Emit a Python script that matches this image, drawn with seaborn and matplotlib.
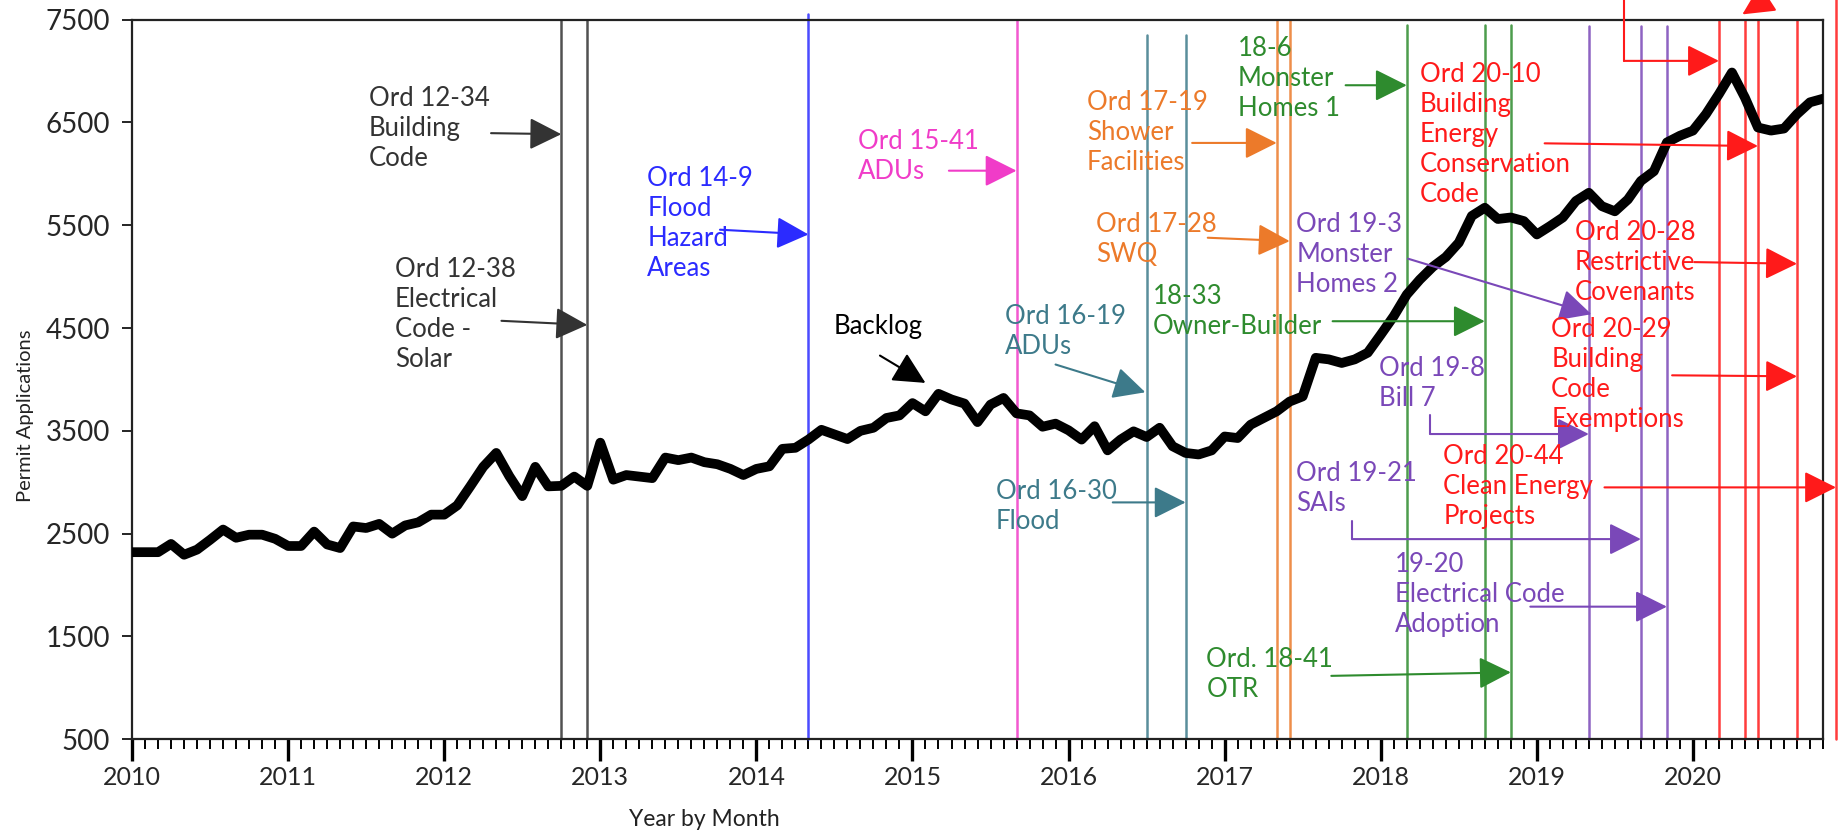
import numpy as np
import pandas as pd
import seaborn as sns
import matplotlib.pyplot as plt
from matplotlib.ticker import FixedLocator, MultipleLocator

# monthly permit applications, Jan 2010 .. Nov 2020
permits = [
    2320, 2320, 2320, 2400, 2295, 2345, 2440, 2540, 2460, 2490, 2490, 2450,
    2380, 2380, 2520, 2395, 2360, 2570, 2555, 2595, 2500, 2580, 2610, 2685,
    2685, 2775, 2960, 3150, 3285, 3060, 2865, 3150, 2960, 2965, 3055, 2965,
    3385, 3025, 3070, 3055, 3040, 3240, 3215, 3240, 3195, 3175, 3130, 3070,
    3130, 3155, 3325, 3335, 3415, 3510, 3465, 3420, 3500, 3530, 3625, 3650,
    3770, 3690, 3860, 3805, 3765, 3585, 3755, 3820, 3670, 3650, 3540, 3570,
    3505, 3415, 3545, 3310, 3415, 3495, 3440, 3530, 3350, 3285, 3270, 3310,
    3445, 3430, 3560, 3625, 3690, 3785, 3835, 4210, 4195, 4160, 4195, 4260,
    4435, 4615, 4825, 4970, 5095, 5190, 5330, 5590, 5670, 5560, 5575, 5540,
    5410, 5490, 5575, 5735, 5815, 5685, 5635, 5750, 5930, 6025, 6305, 6370,
    6420, 6580, 6775, 6985, 6740, 6450, 6420, 6440, 6580, 6695, 6730,
]
years = list(range(2010, 2021))
y_ticks = [500, 1500, 2500, 3500, 4500, 5500, 6500, 7500]

# ordinance dates as month index since Jan 2010, grouped by year of ordinance
ord_months = [33, 35, 52, 68, 78, 81, 88, 89, 98, 104, 106, 112, 116, 118,
              122, 124, 125, 128, 131]
ord_group = ['12', '12', '14', '15', '16', '16', '17', '17', '18', '18', '18',
             '19', '19', '19', '20', '20', '20', '20', '20']

colors = {'12': '#333333', '14': '#2B2BFF', '15': '#F03CC8', '16': '#3D7A8A',
          '17': '#EC7A2A', '18': '#2E8B2E', '19': '#7A48B8', '20': '#FF1A1A',
          'k': '#000000'}
line_top = {'12': 7500, '14': 7550, '15': 7500, '16': 7350, '17': 7500,
            '18': 7450, '19': 7440, '20': 7500}

df = pd.DataFrame({'month': np.arange(len(permits)), 'permits': permits})

sns.set_style("white")
plt.rcParams['font.family'] = ['Lato', 'DejaVu Sans']

fig, ax = plt.subplots(figsize=(18.39, 8.35), dpi=100)
fig.subplots_adjust(left=0.0718, right=0.9913, top=0.9766, bottom=0.1146)

# ordinance lines
for m, g in zip(ord_months, ord_group):
    top = line_top[g]
    if m > 130:
        top = 7720
    ax.plot([m, m], [500, top], color=colors[g], lw=1.8, alpha=0.85,
            clip_on=False, zorder=2)

sns.lineplot(data=df, x='month', y='permits', color='black', lw=7,
             ax=ax, zorder=5)

ax.set_xlim(0, 130)
ax.set_ylim(500, 7500)
ax.yaxis.set_major_locator(FixedLocator(y_ticks))
ax.xaxis.set_major_locator(FixedLocator([12 * (y - 2010) for y in years]))
ax.set_xticklabels([str(y) for y in years])
ax.xaxis.set_minor_locator(MultipleLocator(1))
ax.tick_params(axis='x', which='major', direction='out', length=16, width=2.4,
               color='black', labelsize=18, pad=3, bottom=True)
ax.tick_params(axis='x', which='minor', direction='out', length=7, width=1.4,
               color='black', bottom=True)
ax.tick_params(axis='y', which='major', direction='out', length=7, width=1.2,
               color='black', labelsize=20, left=True, pad=9)
for s in ax.spines.values():
    s.set_color('#222222')
    s.set_linewidth(1.6)

ax.set_xlabel('')
fig.text(0.383, 0.018, 'Year by Month', fontsize=16.5, color='#222222',
         ha='center', va='center')
ax.set_ylabel('Permit Applications', fontsize=14.5, color='#222222')
ax.yaxis.set_label_coords(-0.058, 0.45)

FS = 18.5


def note(text, g, x, y, start=None, end=None):
    ax.text(x, y, text, color=colors[g], fontsize=FS, ha='left', va='center',
            linespacing=1.25, zorder=6)
    if start is not None:
        arrow(start, end, g)


def arrow(start, end, g):
    ax.annotate('', xy=end, xytext=start, annotation_clip=False,
                arrowprops=dict(arrowstyle='-|>,head_length=0.9,head_width=0.45',
                                color=colors[g], lw=1.5, shrinkA=0, shrinkB=0,
                                mutation_scale=22, clip_on=False), zorder=6)


note('Ord 12-34\nBuilding\nCode', '12', 18.2, 6440, (27.6, 6395), (33, 6385))
note('Ord 12-38\nElectrical\nCode -\nSolar', '12', 20.2, 4635, (28.4, 4570), (35, 4530))
note('Ord 14-9\nFlood\nHazard\nAreas', '14', 39.6, 5520, (45.2, 5456), (52, 5410))
note('Ord 15-41\nADUs', '15', 55.8, 6170, (62.8, 6030), (68, 6030))
ax.text(57.4, 4515, 'Backlog', color='black', fontsize=FS, ha='center',
        va='center', zorder=6)
arrow((57.5, 4232), (61.0, 3966), 'k')
note('Ord 16-19\nADUs', '16', 67.1, 4462, (71.0, 4145), (77.9, 3875))
note('Ord 16-30\nFlood', '16', 66.4, 2762, (75.4, 2804), (81, 2804))
note('Ord 17-19\nShower\nFacilities', '17', 73.4, 6404, (81.5, 6300), (88, 6300))
note('Ord 17-28\nSWQ', '17', 74.1, 5361, (82.7, 5378), (89, 5345))
note('18-6\nMonster\nHomes 1', '18', 85.0, 6929, (93.3, 6861), (98, 6861))
note('18-33\nOwner-Builder', '18', 78.5, 4656, (92.3, 4566), (104, 4566))
note('Ord. 18-41\nOTR', '18', 82.6, 1128, (92.2, 1117), (106, 1151))
note('Ord 19-3\nMonster\nHomes 2', '19', 89.5, 5215, (98.1, 5174), (112.2, 4634))
note('Ord 19-8\nBill 7', '19', 95.9, 3958)
ax.plot([99.8, 99.8], [3658, 3469], color=colors['19'], lw=1.5, zorder=6)
arrow((99.8, 3469), (112, 3469), '19')
note('Ord 19-21\nSAIs', '19', 89.5, 2935)
ax.plot([93.8, 93.8], [2619, 2447], color=colors['19'], lw=1.5, zorder=6)
arrow((93.8, 2447), (116, 2447), '19')
note('19-20\nElectrical Code\nAdoption', '19', 97.1, 1905, (107.5, 1790), (118, 1790))
note('Ord 20-10\nBuilding\nEnergy\nConservation\nCode', '20', 99.0, 6381,
     (108.6, 6296), (125, 6270))
note('Ord 20-28\nRestrictive\nCovenants', '20', 110.9, 5135, (120.1, 5141), (128, 5125))
note('Ord 20-29\nBuilding\nCode\nExemptions', '20', 109.1, 4052, (118.4, 4040), (128, 4030))
note('Ord 20-44\nClean Energy\nProjects', '20', 100.8, 2955, (113.2, 2950), (131, 2950))

# connectors coming from outside the top of the plot
ax.plot([114.7, 114.7], [7720, 7098], color=colors['20'], lw=1.5,
        clip_on=False, zorder=6)
arrow((114.7, 7098), (122, 7098), '20')
arrow((126.0, 7730), (123.8, 7550), '20')

plt.savefig('out.png', dpi=100)
